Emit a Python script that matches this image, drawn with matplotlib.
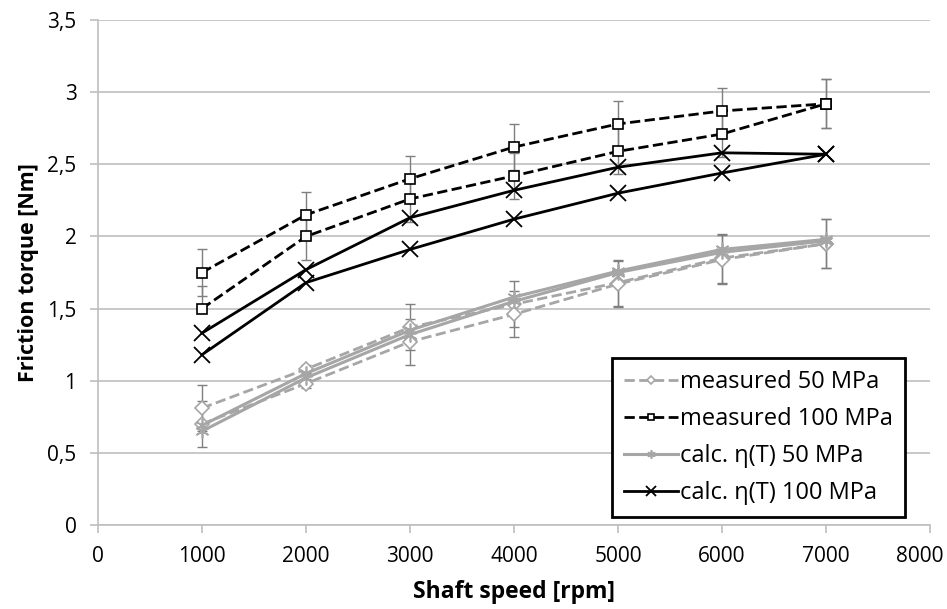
import matplotlib
matplotlib.use("Agg")
from matplotlib import pyplot as plt

plt.rcParams['font.family'] = ['Open Sans', 'DejaVu Sans']

speed = [1000, 2000, 3000, 4000, 5000, 6000, 7000]

# two runs per series, only one of each gets a legend entry
meas50_a = [0.81, 1.08, 1.37, 1.53, 1.68, 1.85, 1.95]
meas50_b = [0.70, 0.98, 1.27, 1.46, 1.67, 1.84, 1.95]
meas100_a = [1.75, 2.15, 2.40, 2.62, 2.78, 2.87, 2.92]
meas100_b = [1.50, 2.00, 2.26, 2.42, 2.59, 2.71, 2.92]
calc50_a = [0.69, 1.05, 1.35, 1.58, 1.76, 1.91, 1.98]
calc50_b = [0.65, 1.02, 1.32, 1.55, 1.75, 1.89, 1.97]
calc100_a = [1.33, 1.77, 2.13, 2.32, 2.48, 2.58, 2.57]
calc100_b = [1.18, 1.68, 1.91, 2.12, 2.30, 2.44, 2.57]

# error bars (down, up) for the measured runs
err50 = [0.16, 0.03, 0.16, 0.16, 0.16, 0.17, 0.17]
err100 = [0.16, 0.16, 0.16, 0.16, 0.16, 0.16, 0.17]
err100_b_down = [0.0, 0.16, 0.16, 0.16, 0.16, 0.16, 0.17]

xticks = [0, 1000, 2000, 3000, 4000, 5000, 6000, 7000, 8000]
yticks = [0, 0.5, 1, 1.5, 2, 2.5, 3, 3.5]
ylabels = ['0', '0,5', '1', '1,5', '2', '2,5', '3', '3,5']

grey = '#a6a6a6'
axgrey = '#bfbfbf'

fig = plt.figure(figsize=(9.47, 6.09), dpi=100)
ax = fig.add_axes([0.1035, 0.138, 0.8785, 0.829])

bars = [(meas50_a, [err50, err50]), (meas50_b, [err50, err50]),
        (meas100_a, [err100, err100]), (meas100_b, [err100_b_down, err100])]
for ys, e in bars:
    ax.errorbar(speed, ys, yerr=e, fmt='none', ecolor='#7f7f7f',
                elinewidth=1, capsize=3.5, capthick=1, zorder=2)

ax.plot(speed, meas50_a, '--', color=grey, lw=2, marker='D', ms=7,
        mfc='white', mec=grey, mew=1.2, label='measured 50 MPa', zorder=3)
ax.plot(speed, meas50_b, '--', color=grey, lw=2, marker='D', ms=7,
        mfc='white', mec=grey, mew=1.2, zorder=3)
ax.plot(speed, calc50_a, '-', color=grey, lw=2.2, marker=(6, 2, 0), ms=10,
        mec=grey, mew=1.2, label='calc. η(T) 50 MPa', zorder=3)
ax.plot(speed, calc50_b, '-', color=grey, lw=2.2, marker=(6, 2, 0), ms=10,
        mec=grey, mew=1.2, zorder=3)
ax.plot(speed, meas100_a, '--', color='black', lw=2, marker='s', ms=7,
        mfc='white', mec='black', mew=1.2, label='measured 100 MPa', zorder=4)
ax.plot(speed, meas100_b, '--', color='black', lw=2, marker='s', ms=7,
        mfc='white', mec='black', mew=1.2, zorder=4)
ax.plot(speed, calc100_a, '-', color='black', lw=2, marker='x', ms=11,
        mew=1.3, label='calc. η(T) 100 MPa', zorder=4)
ax.plot(speed, calc100_b, '-', color='black', lw=2, marker='x', ms=11,
        mew=1.3, zorder=4)

ax.set_xlim(0, 8000)
ax.set_ylim(0, 3.5)
ax.set_xticks(xticks)
# last label is pulled inside the figure like in the original
ax.set_xticklabels([str(t) for t in xticks[:-1]] + [''])
ax.annotate(str(xticks[-1]), xy=(xticks[-1], 0), xycoords='data',
            xytext=(9.4, -15.5), textcoords='offset points',
            ha='right', va='top', fontsize=15)
ax.set_yticks(yticks)
ax.set_yticklabels(ylabels)
ax.yaxis.grid(True, color=axgrey, lw=1.2)
ax.set_axisbelow(True)
for s in ('right', 'top'):
    ax.spines[s].set_visible(False)
for s in ('left', 'bottom'):
    ax.spines[s].set_color(axgrey)
    ax.spines[s].set_linewidth(1.2)
ax.tick_params(direction='out', length=5.5, color=axgrey, width=1.2,
               labelsize=15, pad=10)

ax.set_xlabel('Shaft speed [rpm]', fontsize=16.5, fontweight='bold', labelpad=9)
ax.set_ylabel('Friction torque [Nm]', fontsize=15.5, fontweight='bold', labelpad=6)

h, l = ax.get_legend_handles_labels()
order = [0, 2, 1, 3]
leg = ax.legend([h[i] for i in order], [l[i] for i in order],
                loc='lower right', bbox_to_anchor=(0.97, 0.016), borderaxespad=0,
                fontsize=17, frameon=True, fancybox=False, framealpha=1,
                handlelength=2.3, handletextpad=0.1, labelspacing=0.55,
                borderpad=0.5, markerscale=0.6)
leg.get_frame().set_edgecolor('black')
leg.get_frame().set_linewidth(2)

fig.savefig('out.png', dpi=100)
